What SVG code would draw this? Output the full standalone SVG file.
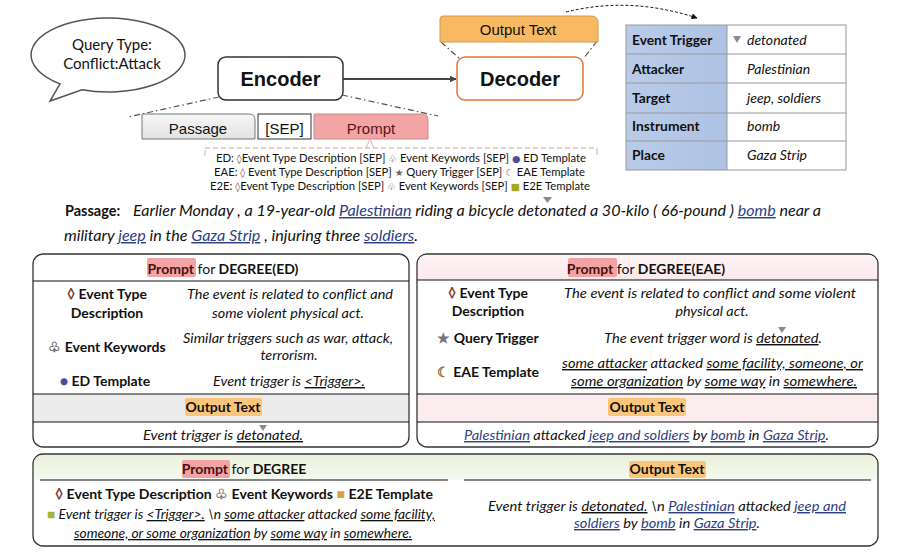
<svg xmlns="http://www.w3.org/2000/svg" width="909" height="557" viewBox="0 0 909 557">
<defs>
<style>
.f{font-family:Lato,"Liberation Sans",sans-serif;fill:#111}
.a{font-family:"Liberation Sans",Arial,sans-serif;fill:#111}
.b{font-weight:bold}
.i{font-style:italic}
.u{text-decoration:underline}
.bl{fill:#2e3f85}
.sy{font-family:"DejaVu Sans",sans-serif;font-size:9.5px}
.box{fill:#fff;stroke:#333;stroke-width:1.3}
.hl{stroke:#111;stroke-width:1.2}
.dd{fill:none;stroke:#555;stroke-width:1.2;stroke-dasharray:6 3 1.5 3}
.grid{stroke:#999;stroke-width:1}
.tri{fill:#8a8a96}
.pk{fill:#f2a3a3}
.og{fill:#fbc679}
</style>
<marker id="ah" viewBox="0 0 10 10" refX="9" refY="5" markerWidth="7" markerHeight="7" orient="auto" markerUnits="userSpaceOnUse"><path d="M0,0 L10,5 L0,10 Z" fill="#444"/></marker>
<marker id="ah2" viewBox="0 0 10 10" refX="9" refY="5" markerWidth="6" markerHeight="6" orient="auto" markerUnits="userSpaceOnUse"><path d="M0,0 L10,5 L0,10 Z" fill="#111"/></marker>
<linearGradient id="gp" x1="0" y1="0" x2="0" y2="1"><stop offset="0" stop-color="#f7f7f7"/><stop offset="1" stop-color="#e2e2e2"/></linearGradient>
<linearGradient id="gb" x1="0" y1="0" x2="1" y2="0"><stop offset="0" stop-color="#b9cbe8"/><stop offset="1" stop-color="#aec2e4"/></linearGradient>
<linearGradient id="gg" x1="0" y1="0" x2="0" y2="1"><stop offset="0" stop-color="#eaf1dc"/><stop offset="1" stop-color="#f6f9f0"/></linearGradient>
<linearGradient id="gpk" x1="0" y1="0" x2="0" y2="1"><stop offset="0" stop-color="#fdf3f5"/><stop offset="1" stop-color="#fbe9ec"/></linearGradient>
</defs>
<rect width="909" height="557" fill="#fff"/>

<g id="connectors">
<line x1="343" y1="79" x2="456" y2="79" stroke="#444" stroke-width="2" marker-end="url(#ah)"/>
<path d="M566,12 Q630,-4 697,18" fill="none" stroke="#111" stroke-width="1" stroke-dasharray="3 2" marker-end="url(#ah2)"/>
<line class="dd" x1="441" y1="42" x2="459" y2="58"/>
<line class="dd" x1="597" y1="41" x2="584" y2="58"/>
<line class="dd" x1="219" y1="97" x2="128" y2="117"/>
<line class="dd" x1="342" y1="95" x2="438" y2="116"/>
</g>

<g id="query-bubble">
<path d="M82,89.8 A77,37 0 1 0 60,83.9 L50,101 Z" fill="#fff" stroke="#555" stroke-width="1.5"/>
<text class="f" x="112" y="50" font-size="15" text-anchor="middle">Query Type:</text>
<text class="f" x="112" y="69" font-size="15" text-anchor="middle">Conflict:Attack</text>
</g>

<g id="encoder">
<rect x="218" y="57" width="125" height="43" rx="8" fill="#fff" stroke="#333" stroke-width="1.5"/>
<text class="a b" x="280.5" y="86" font-size="20" text-anchor="middle">Encoder</text>
</g>

<g id="decoder">
<rect x="457" y="57" width="126" height="43" rx="8" fill="#fff" stroke="#e0783a" stroke-width="1.5"/>
<text class="a b" x="520" y="86" font-size="20" text-anchor="middle">Decoder</text>
</g>

<g id="output-text-tab">
<path d="M440,42 L440,19 Q440,16 443,16 L591,16 Q598,16 598,23 L598,42 Z" fill="#f7b962" stroke="#d39a4c" stroke-width="1"/>
<text class="a" x="518" y="35" font-size="15" text-anchor="middle">Output Text</text>
</g>

<g id="input-tabs">
<path d="M142,139 L142,114 L249,114 Q255,114 255,120 L255,139 Z" fill="url(#gp)" stroke="#777" stroke-width="1"/>
<text class="a" x="198" y="134" font-size="15" text-anchor="middle">Passage</text>
<rect x="258" y="114" width="53" height="25" fill="#fff" stroke="#333" stroke-width="1"/>
<text class="a" x="284.5" y="134" font-size="15" text-anchor="middle">[SEP]</text>
<path d="M314,139 L314,114 L422,114 Q428,114 428,120 L428,139 Z" fill="#f3a5a5" stroke="#c98a8a" stroke-width="1"/>
<text class="a" x="371" y="134" font-size="15" text-anchor="middle" style="fill:#5a1414">Prompt</text>
</g>

<g id="prompt-formats">
<path d="M366,148 L370,139 L374,148" fill="none" stroke="#d8b8b8" stroke-width="1"/>
<line x1="205" y1="148" x2="597" y2="148" stroke="#caa0a0" stroke-width="1" stroke-dasharray="5 3"/>
<line x1="205" y1="150" x2="205" y2="156" stroke="#bbb" stroke-width="1"/>
<line x1="597" y1="148" x2="597" y2="155" stroke="#bbb" stroke-width="1"/>
<text class="f" x="216" y="162" font-size="11" textLength="370" lengthAdjust="spacingAndGlyphs">ED: <tspan class="sy" fill="#7a4a3a">◊</tspan>Event Type Description  [SEP] <tspan class="sy" fill="#555">♧</tspan> Event Keywords [SEP] <tspan class="sy" fill="#4d4d9a">●</tspan> ED Template</text>
<text class="f" x="214" y="176" font-size="11" textLength="371" lengthAdjust="spacingAndGlyphs">EAE: <tspan class="sy" fill="#7a4a3a">◊</tspan> Event Type Description [SEP] <tspan class="sy" fill="#666">★</tspan> Query Trigger [SEP] <tspan class="sy" fill="#a07a2a">☾</tspan> EAE Template</text>
<text class="f" x="210" y="190" font-size="11" textLength="380" lengthAdjust="spacingAndGlyphs">E2E: <tspan class="sy" fill="#7a4a3a">◊</tspan>Event Type Description  [SEP] <tspan class="sy" fill="#555">♧</tspan> Event Keywords [SEP] <tspan class="sy" fill="#a8a820">■</tspan> E2E Template</text>
</g>

<g id="result-table">
<rect x="626" y="25" width="101" height="145" fill="url(#gb)"/>
<rect x="727" y="25" width="119" height="145" fill="#fff"/>
<rect x="626" y="25" width="220" height="145" fill="none" class="grid"/>
<line class="grid" x1="727" y1="25" x2="727" y2="170"/>
<line class="grid" x1="626" y1="54" x2="846" y2="54"/>
<line class="grid" x1="626" y1="83" x2="846" y2="83"/>
<line class="grid" x1="626" y1="113" x2="846" y2="113"/>
<line class="grid" x1="626" y1="141" x2="846" y2="141"/>
<text class="f b" x="632" y="45" font-size="13.8">Event Trigger</text>
<text class="f b" x="632" y="74" font-size="13.8">Attacker</text>
<text class="f b" x="632" y="103" font-size="13.8">Target</text>
<text class="f b" x="632" y="131" font-size="13.8">Instrument</text>
<text class="f b" x="632" y="160" font-size="13.8">Place</text>
<path class="tri" d="M733,36 L741,36 L737,43 Z"/>
<text class="f i" x="747" y="45" font-size="14">detonated</text>
<text class="f i" x="747" y="74" font-size="14">Palestinian</text>
<text class="f i" x="747" y="103" font-size="14">jeep, soldiers</text>
<text class="f i" x="747" y="131" font-size="14">bomb</text>
<text class="f i" x="747" y="160" font-size="14">Gaza Strip</text>
</g>

<g id="passage">
<path class="tri" d="M543,197 L552,197 L547.5,203 Z"/>
<text class="f b" x="65" y="216" font-size="14.5">Passage:</text>
<text class="f i" x="133" y="216" font-size="14.5" textLength="688" lengthAdjust="spacingAndGlyphs">Earlier Monday , a 19-year-old <tspan class="u bl">Palestinian</tspan> riding a bicycle detonated a 30-kilo ( 66-pound ) <tspan class="u bl">bomb</tspan> near a</text>
<text class="f i" x="64" y="241" font-size="14.5" textLength="354" lengthAdjust="spacingAndGlyphs">military <tspan class="u bl">jeep</tspan> in the <tspan class="u bl">Gaza Strip</tspan> , injuring three <tspan class="u bl">soldiers</tspan>.</text>
</g>

<g id="degree-ed">
<rect class="box" x="33" y="254" width="376" height="193" rx="10"/>
<rect x="34" y="394" width="374" height="28" fill="#ececec"/>
<rect class="pk" x="147" y="258" width="49" height="19" rx="2"/>
<text class="f" x="223" y="274" font-size="14" text-anchor="middle"><tspan class="b" style="fill:#4a1010">Prompt</tspan> for <tspan class="b">DEGREE(ED)</tspan></text>
<line class="hl" x1="33" y1="281" x2="409" y2="281"/>
<text class="f b" x="107" y="299" font-size="14" text-anchor="middle"><tspan fill="#7a4434">◊</tspan> Event Type</text>
<text class="f b" x="107" y="318" font-size="14" text-anchor="middle">Description</text>
<text class="f i" x="290" y="299" font-size="14.3" text-anchor="middle" textLength="206" lengthAdjust="spacingAndGlyphs">The event is related to conflict and</text>
<text class="f i" x="288" y="318" font-size="14.3" text-anchor="middle" textLength="152" lengthAdjust="spacingAndGlyphs">some violent physical act.</text>
<text class="f b" x="107" y="352" font-size="14" text-anchor="middle"><tspan fill="#666">♧</tspan> Event Keywords</text>
<text class="f i" x="288" y="343" font-size="14.3" text-anchor="middle" textLength="210" lengthAdjust="spacingAndGlyphs">Similar triggers such as war, attack,</text>
<text class="f i" x="289" y="360" font-size="14.3" text-anchor="middle">terrorism.</text>
<text class="f b" x="105" y="386" font-size="14" text-anchor="middle"><tspan fill="#4d4d9a">●</tspan> ED Template</text>
<text class="f i" x="289" y="386" font-size="14.3" text-anchor="middle" textLength="152" lengthAdjust="spacingAndGlyphs">Event trigger is <tspan class="u">&lt;Trigger&gt;.</tspan></text>
<line class="hl" x1="33" y1="394" x2="409" y2="394"/>
<rect class="og" x="185" y="398" width="77" height="18" rx="2"/>
<text class="f b" x="223" y="412" font-size="14" text-anchor="middle">Output Text</text>
<line class="hl" x1="33" y1="422" x2="409" y2="422"/>
<path class="tri" d="M259,425 L267,425 L263,431 Z"/>
<text class="f i" x="223" y="440" font-size="14.3" text-anchor="middle" textLength="160" lengthAdjust="spacingAndGlyphs">Event trigger is <tspan class="u">detonated.</tspan></text>
</g>

<g id="degree-eae">
<rect class="box" x="417" y="254" width="461" height="193" rx="10"/>
<path d="M418,280 L418,264 Q418,255 427,255 L868,255 Q877,255 877,264 L877,280 Z" fill="url(#gpk)"/>
<rect x="418" y="394" width="459" height="28" fill="#fbecef"/>
<rect class="pk" x="568" y="258" width="49" height="19" rx="2"/>
<text class="f" x="646" y="274" font-size="14" text-anchor="middle"><tspan class="b" style="fill:#4a1010">Prompt</tspan> for <tspan class="b">DEGREE(EAE)</tspan></text>
<line class="hl" x1="417" y1="280" x2="878" y2="280"/>
<text class="f b" x="488" y="298" font-size="14" text-anchor="middle"><tspan fill="#7a4434">◊</tspan> Event Type</text>
<text class="f b" x="488" y="316" font-size="14" text-anchor="middle">Description</text>
<text class="f i" x="710" y="298" font-size="14.3" text-anchor="middle" textLength="292" lengthAdjust="spacingAndGlyphs">The event is related to conflict and some violent</text>
<text class="f i" x="712" y="316" font-size="14.3" text-anchor="middle">physical act.</text>
<text class="f b" x="488" y="343" font-size="14" text-anchor="middle"><tspan fill="#777">★</tspan> Query Trigger</text>
<path class="tri" d="M778,327 L786,327 L782,333 Z"/>
<text class="f i" x="713" y="343" font-size="14.3" text-anchor="middle" textLength="218" lengthAdjust="spacingAndGlyphs">The event trigger word is <tspan class="u">detonated</tspan>.</text>
<text class="f b" x="488" y="377" font-size="14" text-anchor="middle"><tspan fill="#8b6a2a">☾</tspan> EAE Template</text>
<text class="f i" x="712.5" y="368" font-size="14.3" text-anchor="middle" textLength="301" lengthAdjust="spacingAndGlyphs"><tspan class="u">some attacker</tspan> attacked <tspan class="u">some facility, someone, or</tspan></text>
<text class="f i" x="714" y="386" font-size="14.3" text-anchor="middle" textLength="286" lengthAdjust="spacingAndGlyphs"><tspan class="u">some organization</tspan> by <tspan class="u">some way</tspan> in <tspan class="u">somewhere.</tspan></text>
<line class="hl" x1="417" y1="394" x2="878" y2="394"/>
<rect class="og" x="608" y="398" width="78" height="18" rx="2"/>
<text class="f b" x="647" y="412" font-size="14" text-anchor="middle">Output Text</text>
<line class="hl" x1="417" y1="422" x2="878" y2="422"/>
<text class="f i" x="646.5" y="440" font-size="14.3" text-anchor="middle" textLength="365" lengthAdjust="spacingAndGlyphs"><tspan class="u bl">Palestinian</tspan> attacked <tspan class="u bl">jeep and soldiers</tspan> by <tspan class="u bl">bomb</tspan> in <tspan class="u bl">Gaza Strip</tspan>.</text>
</g>

<g id="degree-e2e">
<rect class="box" x="33" y="454" width="845" height="92" rx="10"/>
<path d="M34,480 L34,464 Q34,455 43,455 L868,455 Q877,455 877,464 L877,480 Z" fill="url(#gg)"/>
<rect class="pk" x="182" y="460" width="48" height="18" rx="2"/>
<text class="f" x="244" y="474" font-size="14" text-anchor="middle"><tspan class="b" style="fill:#4a1010">Prompt</tspan> for <tspan class="b">DEGREE</tspan></text>
<line class="hl" x1="40" y1="480" x2="448" y2="480"/>
<text class="f b" x="244" y="499" font-size="14" text-anchor="middle" textLength="378" lengthAdjust="spacingAndGlyphs"><tspan fill="#7a4434">◊</tspan> Event Type Description <tspan fill="#777">♧</tspan> Event Keywords <tspan fill="#d9a23a">■</tspan> E2E Template</text>
<text class="f i" x="241" y="519" font-size="13.3" text-anchor="middle" textLength="388" lengthAdjust="spacingAndGlyphs"><tspan fill="#a6b83a">■</tspan> Event trigger is <tspan class="u">&lt;Trigger&gt;.</tspan> \n <tspan class="u">some attacker</tspan> attacked <tspan class="u">some facility,</tspan></text>
<text class="f i" x="243" y="538" font-size="13.3" text-anchor="middle" textLength="338" lengthAdjust="spacingAndGlyphs"><tspan class="u">someone, or some organization</tspan> by <tspan class="u">some way</tspan> in <tspan class="u">somewhere.</tspan></text>
<rect class="og" x="629" y="461" width="77" height="17" rx="2"/>
<text class="f b" x="667" y="474" font-size="14" text-anchor="middle">Output Text</text>
<line class="hl" x1="464" y1="480" x2="871" y2="480"/>
<text class="f i" x="667" y="511" font-size="14.3" text-anchor="middle" textLength="358" lengthAdjust="spacingAndGlyphs">Event trigger is <tspan class="u">detonated.</tspan> \n <tspan class="u bl">Palestinian</tspan> attacked <tspan class="u bl">jeep and</tspan></text>
<text class="f i" x="667" y="528" font-size="14.3" text-anchor="middle" textLength="186" lengthAdjust="spacingAndGlyphs"><tspan class="u bl">soldiers</tspan> by <tspan class="u bl">bomb</tspan> in <tspan class="u bl">Gaza Strip</tspan>.</text>
</g>
</svg>
